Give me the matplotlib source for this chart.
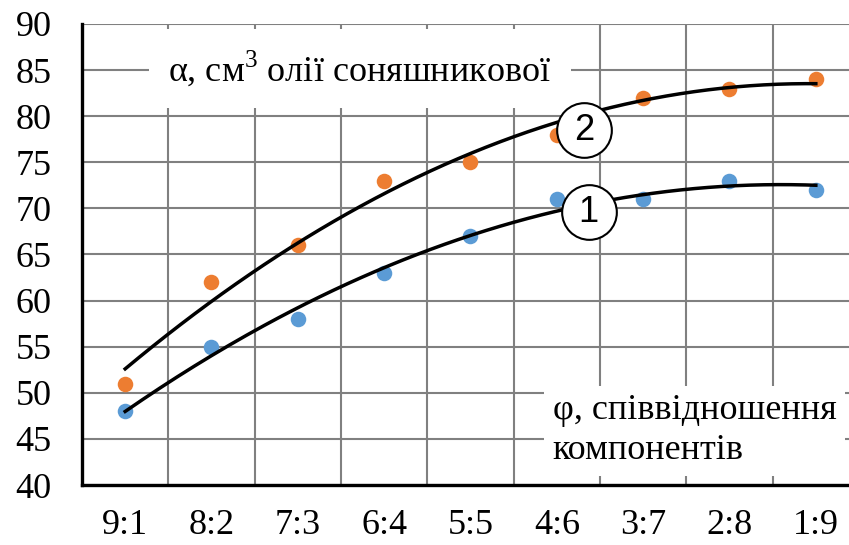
import numpy as np
import matplotlib.pyplot as plt

plt.rcParams['font.family'] = ['Liberation Serif', 'DejaVu Serif']
plt.rcParams['mathtext.fontset'] = 'custom'
plt.rcParams['mathtext.rm'] = 'Liberation Serif'

# дані
categories = ['9:1', '8:2', '7:3', '6:4', '5:5', '4:6', '3:7', '2:8', '1:9']
series1 = [48, 55, 58, 63, 67, 71, 71, 73, 72]
series2 = [51, 62, 66, 73, 75, 78, 82, 83, 84]

x = np.arange(len(categories))

fig = plt.figure(figsize=(8.49, 5.45), dpi=100)
ax = fig.add_axes([82/849, 60/545, 777/849, 461/545])

ax.set_xlim(-0.5, len(categories) - 0.5)
ax.set_ylim(40, 90)
ax.set_yticks(np.arange(40, 91, 5))
ax.set_xticks(x)
ax.set_xticklabels(categories)
ax.set_xticks(np.arange(-0.5, len(categories), 1), minor=True)

ax.grid(True, which='major', axis='y', color='#808080', linewidth=1.5)
ax.grid(True, which='minor', axis='x', color='#808080', linewidth=1.5)
ax.set_axisbelow(True)
ax.tick_params(which='both', length=0, labelsize=26)
ax.tick_params(axis='x', pad=17)
ax.tick_params(axis='y', pad=22)
for s in ['top', 'right']:
    ax.spines[s].set_visible(False)
for s in ['left', 'bottom']:
    ax.spines[s].set_linewidth(2.4)
    ax.spines[s].set_color('black')

# точки
ax.scatter(x, series1, s=125, color='#5B9BD5', zorder=3, linewidths=0)
ax.scatter(x, series2, s=125, color='#ED7D31', zorder=3, linewidths=0)

# поліноміальні лінії тренду
xx = np.linspace(x[0], x[-1], 200)
for ser in (series1, series2):
    p = np.polyfit(x, ser, 2)
    ax.plot(xx, np.polyval(p, xx), color='black', linewidth=2.5, zorder=4)

# підписи кривих
for lab, cx, cy in (('2', 5.32, 78.5), ('1', 5.37, 69.6)):
    ax.scatter([cx], [cy], s=1550, facecolor='white', edgecolor='black',
               linewidths=1.5, zorder=5)
    ax.text(cx, cy, lab, ha='center', va='center', fontsize=26,
            family=['Liberation Sans', 'DejaVu Sans'], zorder=6)

ax.text(0.5, 85.2, 'α, см$^3$ олії соняшникової', fontsize=26, va='center',
        ha='left', zorder=2,
        bbox=dict(facecolor='white', edgecolor='none', pad=14))

ax.text(4.95, 45.9, 'φ, співвідношення\nкомпонентів', fontsize=26, va='center',
        ha='left', linespacing=1.3, zorder=2,
        bbox=dict(facecolor='white', edgecolor='none', pad=6))

fig.savefig('out.png', dpi=100)
